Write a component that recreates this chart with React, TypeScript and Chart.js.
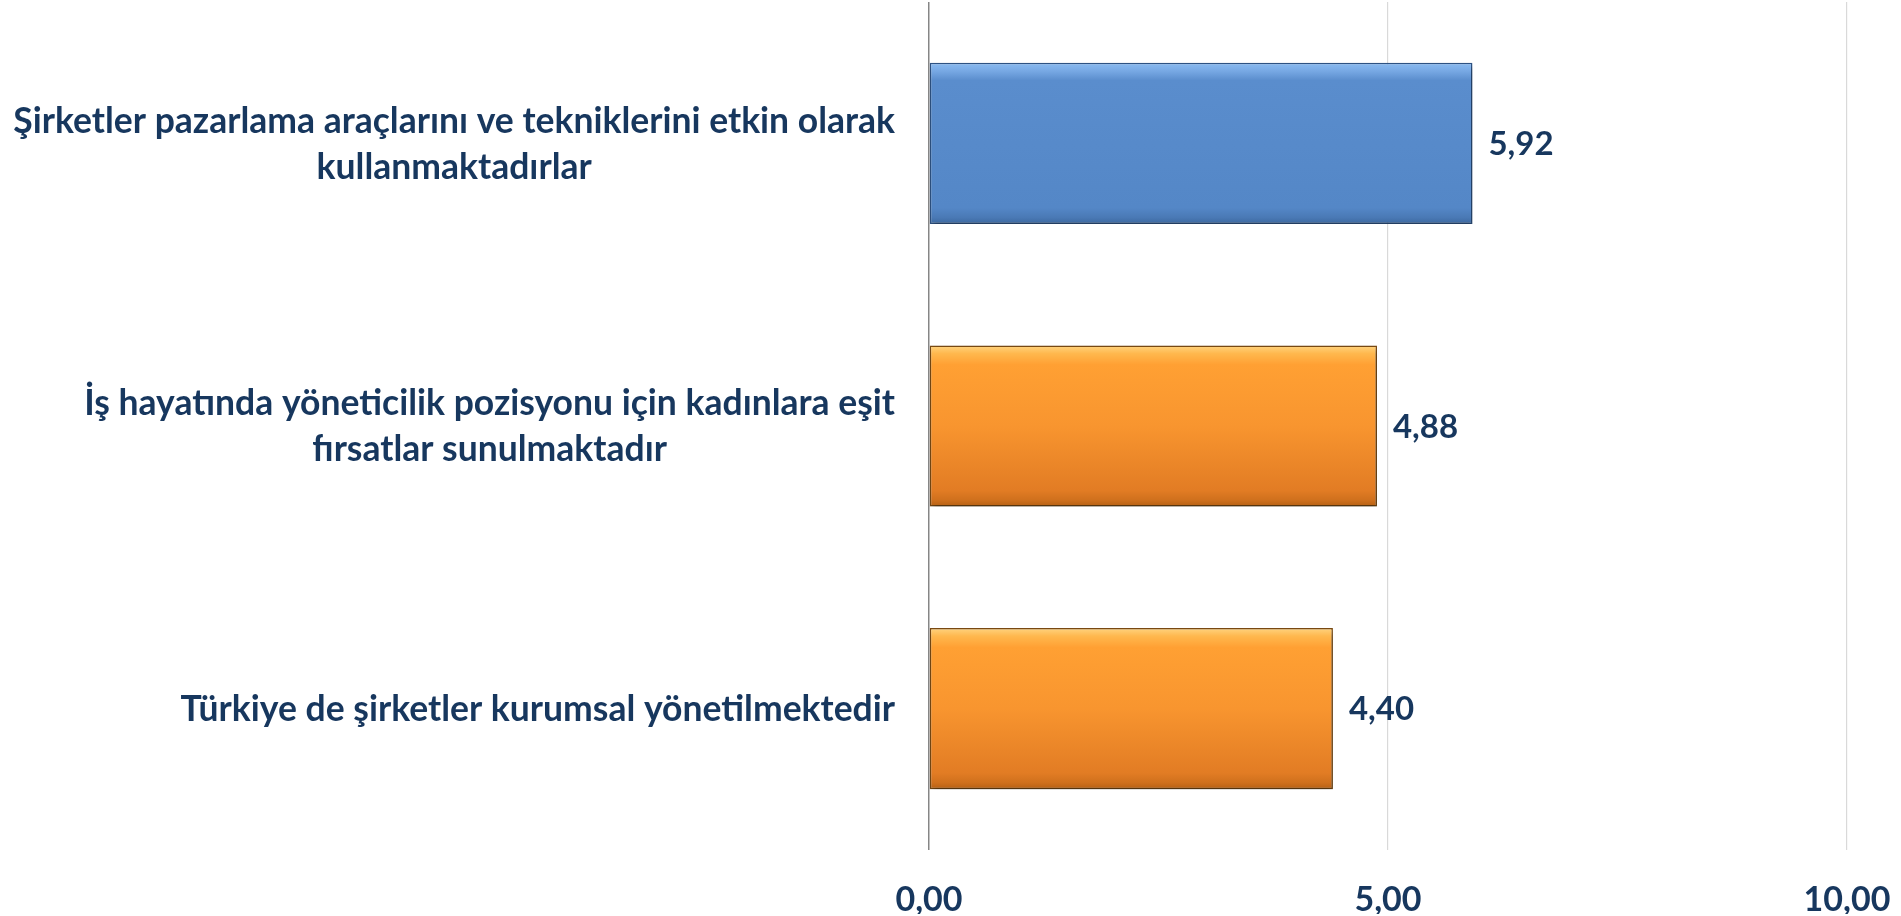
import React, { useEffect, useRef } from 'react';
import { Chart, registerables } from 'chart.js';

Chart.register(...registerables);

const categories: string[][] = [
  ['Şirketler pazarlama araçlarını ve tekniklerini etkin olarak', 'kullanmaktadırlar'],
  ['İş hayatında yöneticilik pozisyonu için kadınlara eşit', 'fırsatlar sunulmaktadır'],
  ['Türkiye de şirketler kurumsal yönetilmektedir'],
];
const values: number[] = [5.92, 4.88, 4.4];
const barKinds: string[] = ['blue', 'orange', 'orange'];
const xTicks: number[] = [0, 5, 10];

const NAVY = '#17375E';
const FONT = 'Lato';
const BAR_PCT = 0.57;

const fmt = (v: number) => v.toFixed(2).replace('.', ',');

function makeFill(ctx: any) {
  const chart = ctx.chart;
  const y = chart.scales && chart.scales.y;
  const kind = barKinds[ctx.dataIndex] || 'orange';
  const flat = kind === 'blue' ? '#5589CA' : '#F99433';
  if (!y || ctx.type !== 'data') return flat;
  const i = ctx.dataIndex;
  const top = y.getPixelForValue(i - BAR_PCT / 2);
  const bottom = y.getPixelForValue(i + BAR_PCT / 2);
  if (!isFinite(top) || !isFinite(bottom)) return flat;
  const g = chart.ctx.createLinearGradient(0, top, 0, bottom);
  if (kind === 'blue') {
    g.addColorStop(0, '#8CBCF2');
    g.addColorStop(0.05, '#78A9E4');
    g.addColorStop(0.11, '#5A8DCD');
    g.addColorStop(0.9, '#5487C7');
    g.addColorStop(0.96, '#4A79B5');
    g.addColorStop(1, '#3C689F');
  } else {
    g.addColorStop(0, '#FFD480');
    g.addColorStop(0.05, '#FFB84E');
    g.addColorStop(0.12, '#FFA033');
    g.addColorStop(0.5, '#F8952F');
    g.addColorStop(0.9, '#E27C24');
    g.addColorStop(0.96, '#CF701D');
    g.addColorStop(1, '#B56014');
  }
  return g;
}

const labelPlugin = {
  id: 'customLabels',
  beforeDatasetsDraw(chart: any) {
    const c = chart.ctx;
    c.save();
    c.shadowColor = 'rgba(0,0,0,0.35)';
    c.shadowBlur = 6;
    c.shadowOffsetX = 2;
    c.shadowOffsetY = 4;
  },
  afterDatasetsDraw(chart: any) {
    const c = chart.ctx;
    c.restore();
    const meta = chart.getDatasetMeta(0);
    c.save();
    c.fillStyle = NAVY;
    c.font = `bold 33px ${FONT}`;
    c.textAlign = 'left';
    c.textBaseline = 'middle';
    meta.data.forEach((bar: any, i: number) => {
      c.fillText(fmt(values[i]), bar.x + 16, bar.y + 1);
    });
    c.restore();
  },
  afterDraw(chart: any) {
    const c = chart.ctx;
    const y = chart.scales.y;
    const right = chart.chartArea.left - 34;
    const lh = 46;
    c.save();
    c.fillStyle = NAVY;
    c.font = `bold 35.5px ${FONT}`;
    c.textAlign = 'center';
    c.textBaseline = 'middle';
    categories.forEach((lines, i) => {
      const yc = y.getPixelForValue(i);
      const w = Math.max(...lines.map((l) => c.measureText(l).width));
      const cx = right - w / 2;
      lines.forEach((l, k) => {
        c.fillText(l, cx, yc + 1 + (k - (lines.length - 1) / 2) * lh);
      });
    });
    c.restore();
  },
};

export default function App() {
  const ref = useRef<HTMLCanvasElement | null>(null);
  useEffect(() => {
    if (!ref.current) return;
    const chart = new Chart(ref.current, {
      type: 'bar',
      data: {
        labels: categories.map((l) => l.join(' ')),
        datasets: [
          {
            data: values,
            backgroundColor: makeFill as any,
            borderColor: barKinds.map((k) => (k === 'blue' ? '#2E5486' : '#7A4A12')),
            borderWidth: 1.5,
            borderSkipped: false,
            barPercentage: BAR_PCT,
            categoryPercentage: 1,
          },
        ],
      },
      options: {
        indexAxis: 'y',
        animation: false,
        responsive: true,
        maintainAspectRatio: false,
        layout: { padding: { left: 929, right: 54, top: 2, bottom: 2 } },
        plugins: { legend: { display: false }, tooltip: { enabled: false } },
        scales: {
          y: { display: false, offset: true },
          x: {
            position: 'bottom',
            min: 0,
            max: 10,
            afterBuildTicks: (axis: any) => {
              axis.ticks = xTicks.map((v) => ({ value: v }));
            },
            afterFit: (axis: any) => {
              axis.height = 64;
              axis.paddingLeft = 0;
              axis.paddingRight = 0;
            },
            border: { display: false },
            grid: {
              drawTicks: false,
              color: (ctx: any) => (ctx.tick && ctx.tick.value === 0 ? '#868686' : '#D9D9D9'),
              lineWidth: (ctx: any) => (ctx.tick && ctx.tick.value === 0 ? 1.5 : 1.2),
            },
            ticks: {
              padding: 36,
              color: NAVY,
              font: { family: FONT, size: 34, weight: 'bold', lineHeight: 0.85 },
              callback: (v: any) => fmt(Number(v)),
            },
          },
        },
      },
      plugins: [labelPlugin],
    });
    return () => chart.destroy();
  }, []);
  return (
    <div style={{ position: 'fixed', left: 0, top: 0, width: 1901, height: 916, background: '#fff' }}>
      <canvas ref={ref} />
    </div>
  );
}
